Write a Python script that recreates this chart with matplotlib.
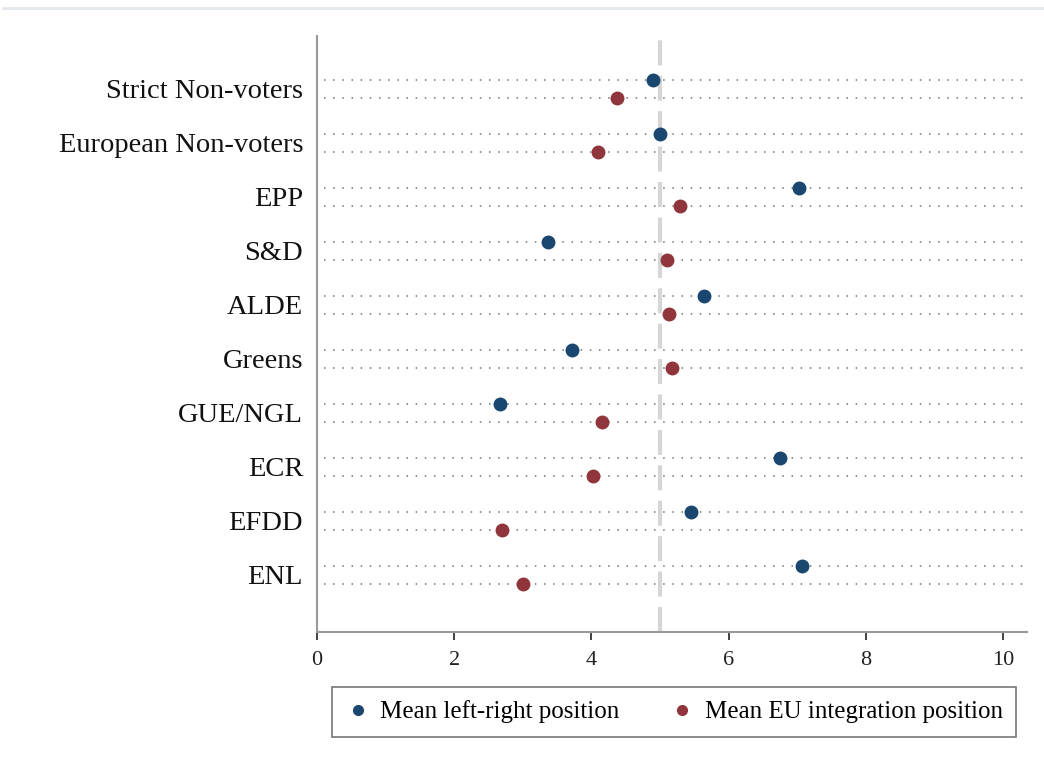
import matplotlib
matplotlib.use("Agg")
import matplotlib.pyplot as plt
from matplotlib.lines import Line2D
import numpy as np

categories = ["Strict Non-voters", "European Non-voters", "EPP", "S&D", "ALDE",
              "Greens", "GUE/NGL", "ECR", "EFDD", "ENL"]
left_right = [4.90, 5.00, 7.03, 3.37, 5.64, 3.72, 2.67, 6.75, 5.45, 7.07]
eu_integration = [4.37, 4.10, 5.29, 5.10, 5.13, 5.17, 4.15, 4.02, 2.70, 3.00]
xticks = [0, 2, 4, 6, 8, 10]
series_labels = ["Mean left-right position", "Mean EU integration position"]

BLUE = "#1a476f"
RED = "#90353b"

plt.rcParams['font.family'] = ['Liberation Serif', 'DejaVu Serif']

W, H = 1044, 768
fig = plt.figure(figsize=(W/100, H/100), dpi=100)
ax = fig.add_axes([317/W, 1-632/H, (1027-317)/W, (632-36)/H])

n = len(categories)
centers = np.arange(n)
off = 0.167
y_blue = centers - off
y_red = centers + off

# dotted guide lines
for yb, yr in zip(y_blue, y_red):
    for yy in (yb, yr):
        ax.plot([0.1, 10.3], [yy, yy], linestyle=(0, (1, 5)), color="#444444",
                linewidth=1.1, alpha=0.75, zorder=1)

ax.axvline(5, color="#d6d6d6", linewidth=3, linestyle=(0, (6, 2.5)), zorder=0.5)

ax.plot(left_right, y_blue, 'o', color=BLUE, markersize=9, zorder=3, linestyle='none')
ax.plot(eu_integration, y_red, 'o', color=RED, markersize=9, zorder=3, linestyle='none')

ax.set_xlim(0, 10.35)
ax.set_ylim(n - 1 + 1.06, -0.98)
ax.set_yticks(centers)
ax.set_yticklabels(categories, fontsize=20.5, color="#111111")
ax.tick_params(axis='y', length=0, pad=10)
ax.set_xticks(xticks)
ax.set_xticklabels([str(t) for t in xticks], fontsize=16, color="#222222")
ax.tick_params(axis='x', length=6, width=1.3, color="#333333", pad=8, direction='out')

for s in ("top", "right"):
    ax.spines[s].set_visible(False)
for s in ("left", "bottom"):
    ax.spines[s].set_color("#9a9a9a")
    ax.spines[s].set_linewidth(1.5)

# thin rule at top of figure
fig.add_artist(Line2D([3/W, 1], [1-8/H, 1-8/H], color="#e3e8ec", linewidth=2))

handles = [Line2D([], [], marker='o', color=BLUE, linestyle='none', markersize=7),
           Line2D([], [], marker='o', color=RED, linestyle='none', markersize=7)]
leg = fig.legend(handles, series_labels, loc='center',
                 bbox_to_anchor=(674/W, 1-712/H), ncol=2, fontsize=18,
                 frameon=True, fancybox=False, edgecolor="#555555",
                 handletextpad=0.4, columnspacing=2.0, borderpad=0.55,
                 handlelength=1.0)
leg.get_frame().set_linewidth(1.2)

fig.savefig("out.png", dpi=100)
